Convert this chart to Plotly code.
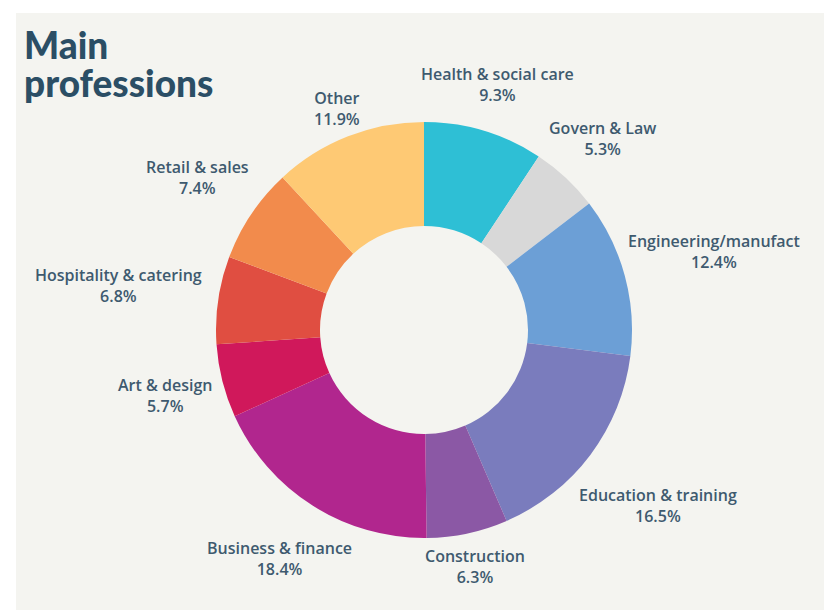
import math
import plotly.graph_objects as go

# slices, clockwise from 12 o'clock
professions = [
    "Health & social care", "Govern & Law", "Engineering/manufact",
    "Education & training", "Construction", "Business & finance",
    "Art & design", "Hospitality & catering", "Retail & sales", "Other",
]
shares = [9.3, 5.3, 12.4, 16.5, 6.3, 18.4, 5.7, 6.8, 7.4, 11.9]
colors = [
    "#2ebfd5", "#d8d8d8", "#6c9fd6", "#7a7cbd", "#8b58a5",
    "#b1268e", "#d0185b", "#e04e41", "#f28b4c", "#fec974",
]

W, H = 832, 610
cx, cy, R = 416, 322, 208      # pie centre / radius in pixels (from top-left)
label_gap = 212                 # labels sit just outside this ring
char_w, half_h = 8.6, 20        # rough label text metrics

fig = go.Figure(go.Pie(
    labels=professions,
    values=shares,
    sort=False,
    direction="clockwise",
    rotation=0,
    hole=0.5,
    marker=dict(colors=colors, line=dict(width=0)),
    textinfo="none",
    hoverinfo="label+percent",
    showlegend=False,
    domain=dict(x=[(cx - R) / W, (cx + R) / W],
                y=[(H - cy - R) / H, (H - cy + R) / H]),
))

# labels outside each slice, placed along the slice's middle angle
label_font = dict(family="Open Sans", size=16, color="#3e5a6f", weight=600)
total = sum(shares)
acc = 0
for name, v in zip(professions, shares):
    mid = (acc + v / 2) / total * 2 * math.pi
    acc += v
    ux, uy = math.sin(mid), -math.cos(mid)
    half_w = len(name) * char_w / 2
    r = label_gap + half_w * abs(ux) + half_h * abs(uy)
    px_x, px_y = cx + r * ux, cy + r * uy
    fig.add_annotation(
        text=f"{name}<br>{v:.1f}%", xref="paper", yref="paper",
        x=px_x / W, y=1 - px_y / H, xanchor="center", yanchor="middle",
        align="center", showarrow=False, font=label_font,
    )

# light card on a white page
fig.add_shape(type="rect", xref="paper", yref="paper",
              x0=8 / W, x1=822 / W, y0=0, y1=(H - 5) / H,
              fillcolor="#f4f4f0", line=dict(width=0), layer="below")

title_font = dict(family="Lato", size=37, color="#2b4e65", weight=900)
for line, top in [("Main", 12), ("professions", 50)]:
    fig.add_annotation(
        text=line, xref="paper", yref="paper",
        x=14 / W, y=(H - top) / H, xanchor="left", yanchor="top",
        align="left", showarrow=False, font=title_font,
    )

fig.update_layout(
    width=W, height=H,
    margin=dict(l=0, r=0, t=0, b=0),
    paper_bgcolor="white",
    plot_bgcolor="white",
)

fig.write_html("out.html")
